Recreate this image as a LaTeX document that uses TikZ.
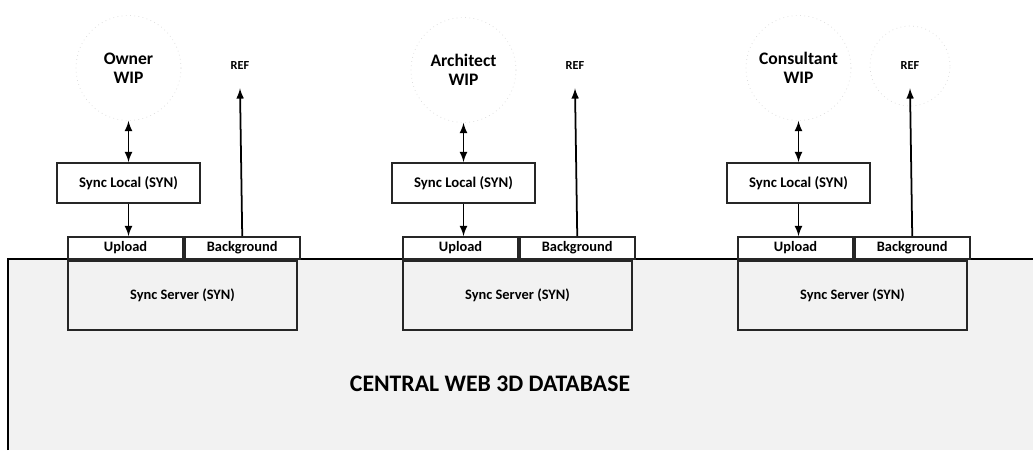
\documentclass[tikz,border=0pt]{standalone}
\usepackage{fontspec}
\setmainfont{Carlito}
\usetikzlibrary{positioning}

\begin{document}
\begin{tikzpicture}[x=0.02cm, y=-0.02cm,
    syncbox/.style={draw=black!85, line width=1pt, fill=white, inner sep=0pt,
      minimum width=2.86cm, minimum height=0.8cm, font=\bfseries\fontsize{8.4}{9}\selectfont},
    tabbox/.style={draw=black!85, line width=1pt, fill=white, inner sep=0pt,
      minimum width=2.3cm, minimum height=0.44cm, font=\bfseries\fontsize{8.2}{9}\selectfont},
    serverbox/.style={draw=black!85, line width=1pt, inner sep=0pt,
      minimum width=4.58cm, minimum height=1.38cm, font=\bfseries\fontsize{8.2}{9}\selectfont},
    wip/.style={circle, draw=black!15, dotted, minimum size=2.1cm, inner sep=0pt, align=center,
      font=\bfseries\fontsize{10}{11}\selectfont},
    reflbl/.style={minimum height=0.88cm, inner sep=0pt, font=\bfseries\fontsize{7}{8}\selectfont},
    dblarr/.style={latex-latex, line width=1pt},
    onearr/.style={-latex, line width=1pt}]
		%%%%% START %%%%%
		\useasboundingbox (0,0) rectangle (1033,450);
		
		% database
		\fill[black!5] (8,259) rectangle (1033,450);
		\draw[line width=1.3pt] (8,450) -- (8,259) -- (1033,259);
		\node[font=\bfseries\fontsize{13.5}{15}\selectfont] (db) at (490,384) {CENTRAL WEB 3D DATABASE};
		
		% owner
		\node[wip] (own) at (128.5,68) {Owner\\WIP};
		\node[reflbl] (ref1) at (240,66) {REF};
		\node[syncbox] (sl1) at (128.5,183) {Sync Local (SYN)};
		\node[tabbox] (up1) at (125.5,248) {Upload};
		\node[tabbox, right=0pt of up1] (bg1) {Background};
		\node[serverbox, anchor=north west] (sv1) at (up1.south west) {Sync Server (SYN)};
		\draw[dblarr] (own.south) -- (sl1.north);
		\draw[onearr] (sl1.south) -- (sl1.south |- up1.north);
		\draw[onearr] (bg1.north) -- (ref1.south);
		
		% architect
		\node[wip] (arc) at (463.5,70) {Architect\\WIP};
		\node[reflbl] (ref2) at (575,66) {REF};
		\node[syncbox] (sl2) at (463.5,183) {Sync Local (SYN)};
		\node[tabbox] (up2) at (460.5,248) {Upload};
		\node[tabbox, right=0pt of up2] (bg2) {Background};
		\node[serverbox, anchor=north west] (sv2) at (up2.south west) {Sync Server (SYN)};
		\draw[dblarr] (arc.south) -- (sl2.north);
		\draw[onearr] (sl2.south) -- (sl2.south |- up2.north);
		\draw[onearr] (bg2.north) -- (ref2.south);
		
		% consultant
		\node[wip] (con) at (798.5,68) {Consultant\\WIP};
		\node[reflbl] (ref3) at (910,66) {REF};
		\draw[black!15, dotted] (ref3) circle (0.8cm);
		\node[syncbox] (sl3) at (798.5,183) {Sync Local (SYN)};
		\node[tabbox] (up3) at (795.5,248) {Upload};
		\node[tabbox, right=0pt of up3] (bg3) {Background};
		\node[serverbox, anchor=north west] (sv3) at (up3.south west) {Sync Server (SYN)};
		\draw[dblarr] (con.south) -- (sl3.north);
		\draw[onearr] (sl3.south) -- (sl3.south |- up3.north);
		\draw[onearr] (bg3.north) -- (ref3.south);
		
		%%%%% END %%%%%
\end{tikzpicture}
\end{document}
